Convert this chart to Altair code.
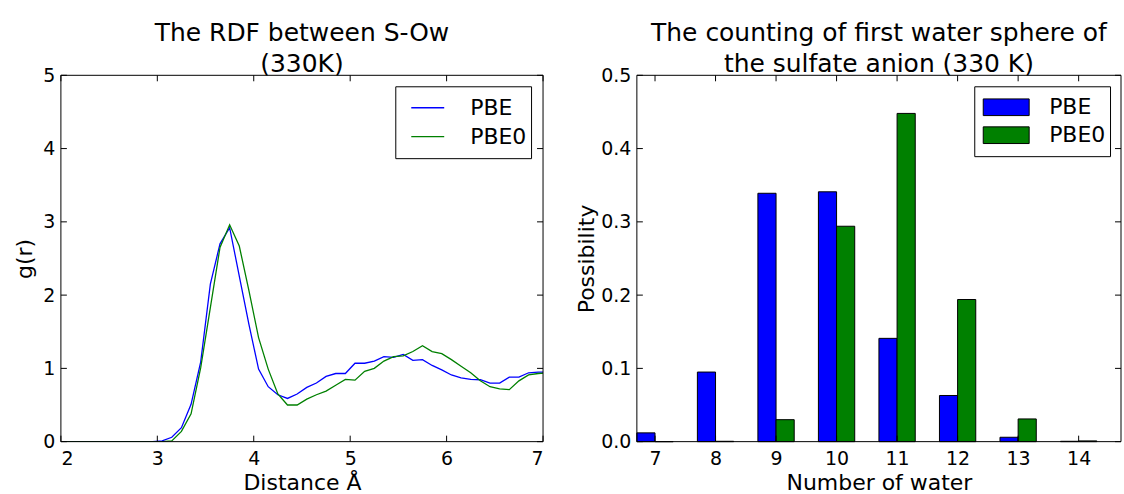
import altair as alt
import pandas as pd

FONT = "DejaVu Sans"
BLUE = "#0000ff"
GREEN = "#008000"
METHODS = ["PBE", "PBE0"]

# ---------------- left panel: RDF S-Ow ----------------
r_values = [1.95, 2.05, 2.15, 2.25, 2.35, 2.45, 2.55, 2.65, 2.75, 2.85, 2.95,
            3.05, 3.15, 3.25, 3.35, 3.45, 3.55, 3.65, 3.75, 3.85, 3.95,
            4.05, 4.15, 4.25, 4.35, 4.45, 4.55, 4.65, 4.75, 4.85, 4.95,
            5.05, 5.15, 5.25, 5.35, 5.45, 5.55, 5.65, 5.75, 5.85, 5.95,
            6.05, 6.15, 6.25, 6.35, 6.45, 6.55, 6.65, 6.75, 6.85, 6.95, 7.05]
g_pbe = [0, 0, 0, 0, 0, 0, 0, 0, 0, 0, 0,
         0.01, 0.06, 0.19, 0.51, 1.09, 2.15, 2.70, 2.92, 2.26, 1.60,
         0.99, 0.75, 0.64, 0.59, 0.65, 0.74, 0.80, 0.89, 0.93, 0.93,
         1.07, 1.07, 1.10, 1.16, 1.15, 1.19, 1.11, 1.12, 1.04, 0.98,
         0.91, 0.87, 0.85, 0.845, 0.80, 0.80, 0.88, 0.88, 0.94, 0.95, 0.95]
g_pbe0 = [0, 0, 0, 0, 0, 0, 0, 0, 0, 0, 0,
          0.0, 0.01, 0.14, 0.38, 1.01, 1.83, 2.65, 2.96, 2.67, 2.06,
          1.42, 0.99, 0.65, 0.50, 0.50, 0.58, 0.64, 0.69, 0.77, 0.85,
          0.84, 0.96, 1.00, 1.10, 1.16, 1.17, 1.23, 1.31, 1.23, 1.20,
          1.12, 1.03, 0.94, 0.83, 0.75, 0.72, 0.71, 0.83, 0.91, 0.93, 0.94]
rdf_xticks = [2, 3, 4, 5, 6, 7]
rdf_yticks = [0, 1, 2, 3, 4, 5]

# ---------------- right panel: coordination numbers ----------------
n_water = [7, 8, 9, 10, 11, 12, 13, 14]
p_pbe = [0.012, 0.095, 0.339, 0.341, 0.141, 0.063, 0.006, 0.0005]
p_pbe0 = [0.0, 0.0005, 0.030, 0.294, 0.448, 0.194, 0.031, 0.001]
cn_xticks = [7, 8, 9, 10, 11, 12, 13, 14]
cn_yticks = [0.0, 0.1, 0.2, 0.3, 0.4, 0.5]

W1, W2, H = 483, 485, 367
TICK = 6
BAR_W = 0.3

rdf = pd.DataFrame({
    "r": r_values * 2,
    "g": g_pbe + g_pbe0,
    "method": ["PBE"] * len(r_values) + ["PBE0"] * len(r_values),
})

rows = []
for n, a, b in zip(n_water, p_pbe, p_pbe0):
    rows.append({"n": n, "method": "PBE", "p": a, "x0": n - BAR_W, "x1": n})
    rows.append({"n": n, "method": "PBE0", "p": b, "x0": n, "x1": n + BAR_W})
cn = pd.DataFrame(rows)

color_scale = alt.Scale(domain=METHODS, range=[BLUE, GREEN])


def ticks_layers(xfield, yfield, xvals, yvals, xscale, yscale, xaxis, yaxis, W):
    xt = pd.DataFrame({xfield: xvals})
    yt = pd.DataFrame({yfield: yvals})
    base_x = alt.Chart(xt).mark_rule(color="black", strokeWidth=1)
    base_y = alt.Chart(yt).mark_rule(color="black", strokeWidth=1)
    xenc = alt.X(f"{xfield}:Q", scale=xscale, axis=xaxis)
    yenc = alt.Y(f"{yfield}:Q", scale=yscale, axis=yaxis)
    return [
        base_x.encode(x=xenc, y=alt.value(H), y2=alt.value(H - TICK)),
        base_x.encode(x=xenc, y=alt.value(0), y2=alt.value(TICK)),
        base_y.encode(y=yenc, x=alt.value(0), x2=alt.value(TICK)),
        base_y.encode(y=yenc, x=alt.value(W - TICK), x2=alt.value(W)),
    ]


def frame(W):
    return alt.Chart(pd.DataFrame({"k": [0]})).mark_rect(
        fill="white", fillOpacity=0, stroke="black", strokeWidth=1
    ).encode(x=alt.value(0), x2=alt.value(W), y=alt.value(0), y2=alt.value(H))


def title(lines):
    return alt.TitleParams(text=lines, font=FONT, fontSize=25, fontWeight="normal",
                           color="black", lineHeight=31, baseline="alphabetic",
                           offset=-31, anchor="middle")


def legend(x, symbol, **kw):
    return alt.Legend(title=" ", titleOrient="bottom", titleFontSize=1, titlePadding=5,
                      orient="none", legendX=x, legendY=11,
                      symbolType=symbol, symbolSize=1089,
                      labelFont=FONT, labelFontSize=22, labelColor="black",
                      strokeColor="black", fillColor="white",
                      padding=4, rowPadding=0, symbolOffset=11, **kw)


# left chart
x1s = alt.Scale(domain=[2, 7], nice=False, zero=False)
y1s = alt.Scale(domain=[0, 5], nice=False, zero=False)
x1axis = alt.Axis(title="Distance Å", values=rdf_xticks, format="d",
                  titleY=48, titleBaseline="alphabetic")
y1axis = alt.Axis(title="g(r)", values=rdf_yticks, format="d",
                  titleX=-36, titleBaseline="middle")
lines = alt.Chart(rdf).mark_line(strokeWidth=1.3, clip=True).encode(
    x=alt.X("r:Q", scale=x1s, axis=x1axis),
    y=alt.Y("g:Q", scale=y1s, axis=y1axis),
    color=alt.Color("method:N", scale=color_scale,
                    legend=legend(335, "stroke", symbolStrokeWidth=1.3, labelOffset=25)),
)
left = alt.layer(
    lines, *ticks_layers("r", "g", rdf_xticks, rdf_yticks, x1s, y1s, x1axis, y1axis, W1),
    frame(W1)
).properties(width=W1, height=H,
             title=title(["The RDF between S-Ow", "(330K)"]))

# right chart
x2s = alt.Scale(domain=[6.7, 14.7], nice=False, zero=False)
y2s = alt.Scale(domain=[0, 0.5], nice=False)
x2axis = alt.Axis(title="Number of water", values=cn_xticks, format="d",
                  titleY=48, titleBaseline="alphabetic")
y2axis = alt.Axis(title="Possibility", values=cn_yticks, format=".1f",
                  titleX=-50, titleBaseline="middle")
bars = alt.Chart(cn).mark_bar(stroke="black", strokeWidth=1).encode(
    x=alt.X("x0:Q", scale=x2s, axis=x2axis),
    x2="x1:Q",
    y=alt.Y("p:Q", scale=y2s, stack=None, axis=y2axis),
    y2=alt.datum(0),
    color=alt.Color("method:N", scale=color_scale,
                    legend=legend(338, "M-1.394,-0.506H1.394V0.506H-1.394Z",
                                  symbolStrokeColor="black", symbolStrokeWidth=1,
                                  labelOffset=26)),
)
right = alt.layer(
    bars, *ticks_layers("x0", "p", cn_xticks, cn_yticks, x2s, y2s, x2axis, y2axis, W2),
    frame(W2)
).properties(width=W2, height=H,
             title=title(["The counting of first water sphere of",
                          "the sulfate anion (330 K)"]))

chart = alt.hconcat(left, right, spacing=94, bounds="flush").resolve_scale(
    color="independent"
).properties(
    padding={"left": 13, "top": 20, "right": 2, "bottom": 0},
    background="white",
).configure_view(stroke="transparent").configure_axis(
    domain=False, ticks=False, tickSize=0, grid=False,
    labelFont=FONT, labelFontSize=19, labelColor="black", labelPadding=6,
    titleFont=FONT, titleFontSize=22, titleFontWeight="normal", titleColor="black",
).configure_axisX(labelPadding=8)

chart.save("out.html", embed_options={"renderer": "svg", "actions": False})
